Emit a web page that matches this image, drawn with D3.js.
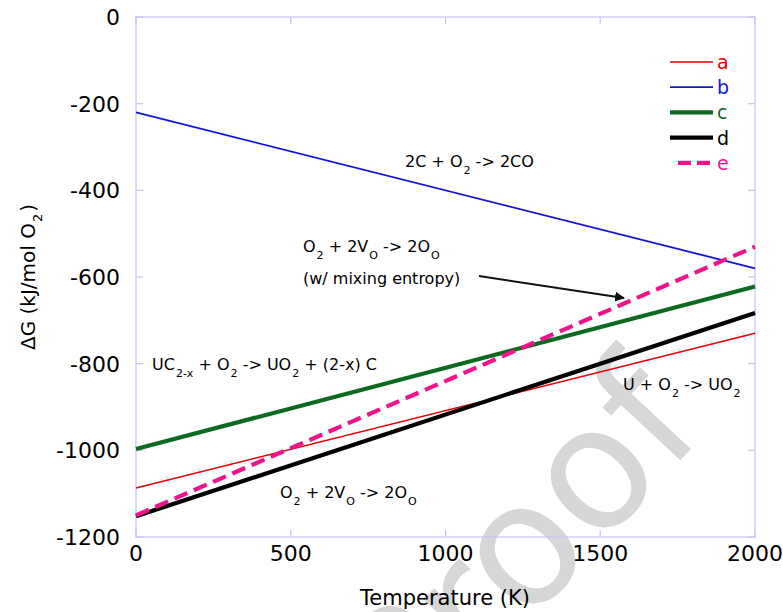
<!DOCTYPE html>
<html>
<head>
<meta charset="utf-8">
<script src="https://cdn.jsdelivr.net/npm/d3@7"></script>
<style>
  body { margin: 0; background: #fff; }
  svg { font-family: "DejaVu Sans", Verdana, sans-serif; }
</style>
</head>
<body>
<svg id="chart" width="783" height="612"></svg>
<script>
// Temperature end points (K) and dG values (kJ/mol O2)
const temps = [0, 2000];
const seriesNames = ["a", "b", "c", "d", "e"];
const seriesA = [-1087, -730];
const seriesB = [-220, -580];
const seriesC = [-997, -622];
const seriesD = [-1152, -683];
const seriesE = [-1150, -530];
const xTicks = [0, 500, 1000, 1500, 2000];
const yTicks = [0, -200, -400, -600, -800, -1000, -1200];

const COLORS = { a: "#e60000", b: "#1414d2", c: "#0b6a1e", d: "#000000", e: "#f0138c" };
const WIDTHS = { a: 1.5, b: 1.8, c: 4.2, d: 4.2, e: 4.2 };

const series = [
  { key: "a", values: seriesA },
  { key: "b", values: seriesB },
  { key: "c", values: seriesC },
  { key: "d", values: seriesD },
  { key: "e", values: seriesE },
];

const svg = d3.select("#chart");
const L = 136, R = 755, T = 17, B = 537;
const axisColor = "#c4c4f4";

const x = d3.scaleLinear().domain([0, 2000]).range([L, R]);
const y = d3.scaleLinear().domain([-1200, 0]).range([B, T]);

// watermark (runs off the bottom edge, as in the source)
svg.append("text")
  .attr("transform", "translate(413,747) rotate(-47)")
  .attr("font-size", 170)
  .attr("fill", "#d6d6d6")
  .text("Proof");

// frame
svg.append("rect")
  .attr("x", L).attr("y", T)
  .attr("width", R - L).attr("height", B - T)
  .attr("fill", "none")
  .attr("stroke", axisColor)
  .attr("stroke-width", 1.2);

// inward ticks on all four sides
const tickLen = 7;
const tg = svg.append("g").attr("stroke", axisColor).attr("stroke-width", 1.2);
xTicks.forEach((t) => {
  tg.append("line").attr("x1", x(t)).attr("x2", x(t)).attr("y1", B).attr("y2", B - tickLen);
  tg.append("line").attr("x1", x(t)).attr("x2", x(t)).attr("y1", T).attr("y2", T + tickLen);
});
yTicks.forEach((t) => {
  tg.append("line").attr("x1", L).attr("x2", L + tickLen).attr("y1", y(t)).attr("y2", y(t));
  tg.append("line").attr("x1", R).attr("x2", R - tickLen).attr("y1", y(t)).attr("y2", y(t));
});

// tick labels
svg.append("g").selectAll("text")
  .data(xTicks)
  .join("text")
  .attr("x", (d) => x(d))
  .attr("y", B + 24)
  .attr("text-anchor", "middle")
  .attr("font-size", 22)
  .attr("fill", "#000")
  .text((d) => d);

svg.append("g").selectAll("text")
  .data(yTicks)
  .join("text")
  .attr("x", L - 16)
  .attr("y", (d) => y(d) + 8)
  .attr("text-anchor", "end")
  .attr("font-size", 22)
  .attr("fill", "#000")
  .text((d) => d);

// axis titles
svg.append("text")
  .attr("x", 445).attr("y", 605)
  .attr("text-anchor", "middle")
  .attr("font-size", 21)
  .text("Temperature (K)");

const yt = svg.append("text")
  .attr("transform", "translate(35,277) rotate(-90)")
  .attr("text-anchor", "middle")
  .attr("font-size", 20);
yt.append("tspan").text("\u0394G (kJ/mol O");
yt.append("tspan").attr("font-size", 13).attr("dy", 7).attr("dx", 1).text("2");
yt.append("tspan").attr("dy", -7).attr("dx", 2).text(")");

// lines
const line = d3.line()
  .x((d, i) => x(temps[i]))
  .y((d) => y(d));

svg.append("g").selectAll("path")
  .data(series)
  .join("path")
  .attr("d", (s) => line(s.values))
  .attr("fill", "none")
  .attr("stroke", (s) => COLORS[s.key])
  .attr("stroke-width", (s) => WIDTHS[s.key])
  .attr("stroke-dasharray", (s) => (s.key === "e" ? "14,7" : null));

// reaction labels (text with subscripts)
function label(px, py, parts) {
  const t = svg.append("text").attr("x", px).attr("y", py).attr("font-size", 16).attr("fill", "#000");
  let lift = 0;
  parts.forEach(([txt, sub]) => {
    t.append("tspan").attr("dy", lift).text(txt);
    lift = 0;
    if (sub) {
      t.append("tspan").attr("font-size", 11).attr("dy", 7).attr("dx", 1).text(sub);
      lift = -7;
    }
  });
  return t;
}

label(405, 167, [["2C + O", "2"], [" -> 2CO"]]);
label(303, 252, [["O", "2"], [" + 2V", "O"], [" -> 2O", "O"]]);
label(303, 284, [["(w/ mixing entropy)"]]);
label(152, 370, [["UC", "2-x"], [" + O", "2"], [" -> UO", "2"], [" + (2-x) C"]]);
label(623, 390, [["U + O", "2"], [" -> UO", "2"]]);
label(280, 498, [["O", "2"], [" + 2V", "O"], [" -> 2O", "O"]]);

// arrow
svg.append("defs").append("marker")
  .attr("id", "arrow")
  .attr("viewBox", "0 0 10 10")
  .attr("refX", 9).attr("refY", 5)
  .attr("markerWidth", 5).attr("markerHeight", 5)
  .attr("orient", "auto")
  .append("path")
  .attr("d", "M0,0 L10,5 L0,10 z")
  .attr("fill", "#111");

svg.append("line")
  .attr("x1", 479).attr("y1", 276)
  .attr("x2", 624).attr("y2", 298)
  .attr("stroke", "#111")
  .attr("stroke-width", 2)
  .attr("marker-end", "url(#arrow)");

// legend
const lg = svg.append("g");
seriesNames.forEach((k, i) => {
  const ly = 62 + i * 25.2;
  lg.append("line")
    .attr("x1", k === "e" ? 678 : 670).attr("x2", 713)
    .attr("y1", ly).attr("y2", ly)
    .attr("stroke", COLORS[k])
    .attr("stroke-width", WIDTHS[k])
    .attr("stroke-dasharray", k === "e" ? "13,6" : null);
  lg.append("text")
    .attr("x", 717).attr("y", ly + 7)
    .attr("font-size", 19)
    .attr("fill", COLORS[k])
    .text(k);
});
</script>
</body>
</html>
